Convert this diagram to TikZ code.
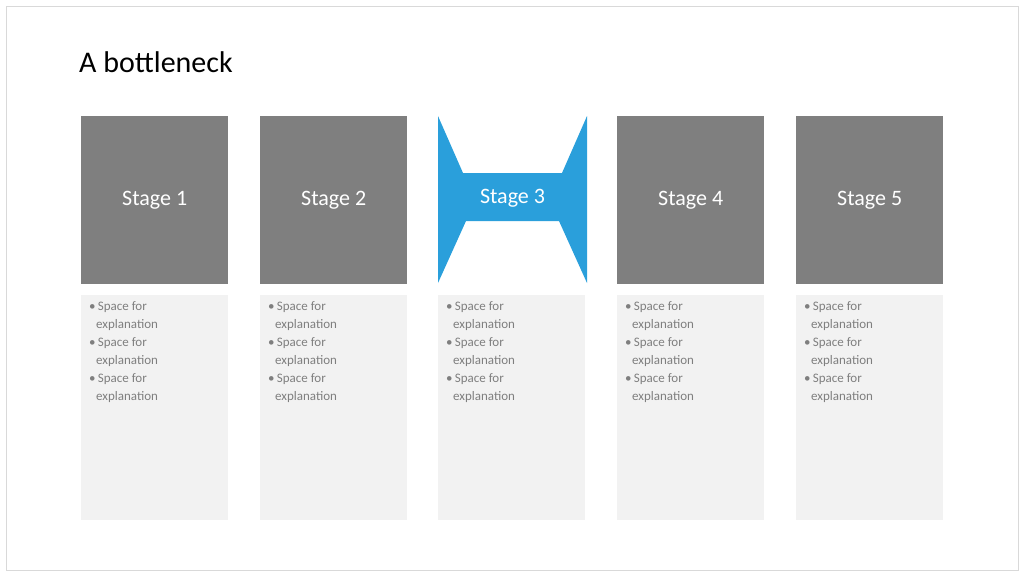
\documentclass[tikz,border=0pt]{standalone}
\usepackage{fontspec}
\setmainfont{Carlito}
\definecolor{stg}{HTML}{7F7F7F}
\definecolor{lite}{HTML}{F2F2F2}
\definecolor{blu}{HTML}{2A9FDB}
\definecolor{txt}{HTML}{7F7F7F}
\begin{document}
\begin{tikzpicture}[x=1pt,y=-1pt,
  stagebox/.style={fill=stg,draw=none,minimum width=147pt,minimum height=168pt,anchor=north west,text=white,font=\fontsize{22}{26}\selectfont},
  infobox/.style={fill=lite,draw=none,minimum width=147pt,minimum height=225pt,anchor=north west},
  infotext/.style={anchor=north west,text=txt,font=\fontsize{13}{18}\selectfont,align=left,inner sep=0pt}]
\useasboundingbox (0,0) rectangle (1024,576);
\draw[draw=black!15,line width=0.8pt] (6,6) rectangle (1018,570);
\node[anchor=base west,inner sep=0pt,font=\fontsize{30}{36}\selectfont] (title) at (79,72) {A bottleneck};
\foreach \i/\x in {1/81,2/260,4/617,5/796}{
  \node[stagebox] (s\i) at (\x,116) {Stage \i};
}
\fill[blu] (438,116) -- (463,173) -- (562,173) -- (587,116) -- (587,283) -- (559,221) -- (466,221) -- (438,283) -- cycle;
\node[text=white,font=\fontsize{22}{26}\selectfont] (s3) at (512.5,198) {Stage 3};
\foreach \i/\x in {1/81,2/260,3/438,4/617,5/796}{
  \node[infobox] (b\i) at (\x,295) {};
  \node[infotext] (t\i) at (\x+8,301) {\textbullet\,Space for\\\hspace{7pt}explanation\\\textbullet\,Space for\\\hspace{7pt}explanation\\\textbullet\,Space for\\\hspace{7pt}explanation};
}
\end{tikzpicture}
\end{document}
